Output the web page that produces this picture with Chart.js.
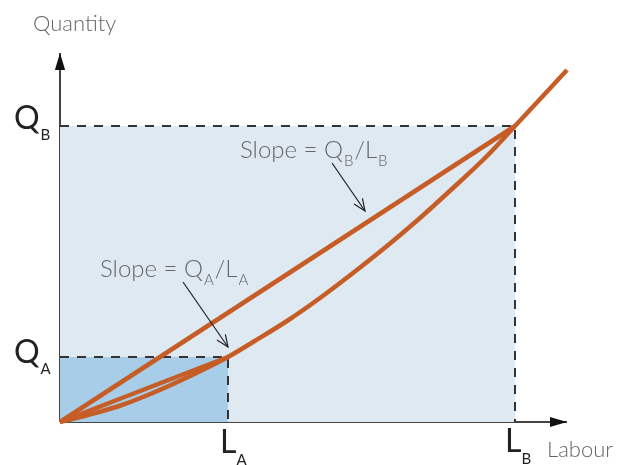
<!DOCTYPE html>
<html>
<head>
<meta charset="utf-8">
<script src="https://cdn.jsdelivr.net/npm/chart.js@4.4.0/dist/chart.umd.min.js"></script>
<style>
  body { margin: 0; background: #fff; }
  canvas { display: block; }
</style>
</head>
<body>
<canvas id="myChart" width="624" height="465"></canvas>
<script>
// labour / quantity points
var LA = 168, LB = 455;
var QA = 65, QB = 296;

// production curve
var curveX = [0, 28, 62, 95, 128, 168, 193, 227, 260, 293, 327, 360, 393, 427, 455, 507];
var curveY = [0, 7, 17, 30, 45, 65, 80, 101, 124, 149, 176, 204, 234, 266, 296, 352];

var xMax = 507, yMax = 369; // where the axis arrows end

var orange = "#c65d26";
var toPts = function(xs, ys){
  var out = [];
  for (var i = 0; i < xs.length; i++) out.push({x: xs[i], y: ys[i]});
  return out;
};

// subscripted label like Q_B
var subText = function(ctx, parts, x, y){
  parts.forEach(function(p){
    ctx.font = p.font;
    ctx.fillStyle = p.color;
    ctx.fillText(p.t, x, y + (p.dy || 0));
    x += ctx.measureText(p.t).width + (p.gap || 0);
  });
};

var arrow = function(ctx, x1, y1, x2, y2, head, fill){
  var a = Math.atan2(y2 - y1, x2 - x1);
  ctx.beginPath();
  ctx.moveTo(x1, y1);
  ctx.lineTo(x2, y2);
  ctx.stroke();
  ctx.beginPath();
  if (fill) {
    ctx.moveTo(x2, y2);
    ctx.lineTo(x2 - head * Math.cos(a) + head * 0.3 * Math.sin(a), y2 - head * Math.sin(a) - head * 0.3 * Math.cos(a));
    ctx.lineTo(x2 - head * Math.cos(a) - head * 0.3 * Math.sin(a), y2 - head * Math.sin(a) + head * 0.3 * Math.cos(a));
    ctx.closePath();
    ctx.fill();
  } else {
    ctx.moveTo(x2 - head * Math.cos(a - 0.4), y2 - head * Math.sin(a - 0.4));
    ctx.lineTo(x2, y2);
    ctx.lineTo(x2 - head * Math.cos(a + 0.4), y2 - head * Math.sin(a + 0.4));
    ctx.stroke();
  }
};

var decor = {
  id: "decor",
  beforeDatasetsDraw: function(chart){
    var ctx = chart.ctx, xs = chart.scales.x, ys = chart.scales.y;
    var x0 = xs.getPixelForValue(0), y0 = ys.getPixelForValue(0);
    ctx.save();
    ctx.strokeStyle = "#444";
    ctx.fillStyle = "#111";
    ctx.lineWidth = 2;
    arrow(ctx, x0, y0, xs.getPixelForValue(xMax), y0, 17, true);
    arrow(ctx, x0, y0, x0, ys.getPixelForValue(yMax), 17, true);
    ctx.restore();
  },
  afterDraw: function(chart){
    var ctx = chart.ctx, xs = chart.scales.x, ys = chart.scales.y;
    var px = function(v){ return xs.getPixelForValue(v); };
    var py = function(v){ return ys.getPixelForValue(v); };
    ctx.save();
    var big = "32px Lato", sub = "15px Lato", lab = "300 22px Lato", slope = "300 24px Lato";
    var dark = "#222", grey = "#666";
    ctx.textBaseline = "alphabetic";

    subText(ctx, [{t: "Q", font: big, color: dark, gap: 1}, {t: "B", font: sub, color: dark, dy: 11}], 14, py(QB) + 3);
    subText(ctx, [{t: "Q", font: big, color: dark, gap: 1}, {t: "A", font: sub, color: dark, dy: 11}], 14, py(QA) + 6);
    subText(ctx, [{t: "L", font: big, color: dark, gap: 0}, {t: "A", font: sub, color: dark, dy: 12}], px(LA) - 8, 453);
    subText(ctx, [{t: "L", font: big, color: dark, gap: 0}, {t: "B", font: sub, color: dark, dy: 12}], px(LB) - 10, 452);

    ctx.font = lab;
    ctx.fillStyle = grey;
    ctx.fillText("Quantity", 33, 31);
    ctx.fillText("Labour", 547, 457);

    var sm = "300 15px Lato";
    subText(ctx, [{t: "Slope = Q", font: slope, color: grey, gap: 1}, {t: "B", font: sm, color: grey, dy: 8, gap: 1},
                  {t: "/L", font: slope, color: grey, gap: 1}, {t: "B", font: sm, color: grey, dy: 8}], px(180), py(264));
    subText(ctx, [{t: "Slope = Q", font: slope, color: grey, gap: 1}, {t: "A", font: sm, color: grey, dy: 8, gap: 1},
                  {t: "/L", font: slope, color: grey, gap: 1}, {t: "A", font: sm, color: grey, dy: 8}], px(40), py(145));

    ctx.strokeStyle = "#222";
    ctx.lineWidth = 1.2;
    arrow(ctx, px(272), py(259), px(305), py(211), 13, false);
    arrow(ctx, px(123), py(140), px(168), py(75), 13, false);
    ctx.restore();
  }
};

var ctx = document.getElementById("myChart").getContext("2d");
var myNewChart = new Chart(ctx, {
  type: "scatter",
  data: {
    datasets: [
      { // big rectangle up to L_B, Q_B
        data: toPts([0, LB, LB], [QB, QB, 0]),
        showLine: true, fill: "origin",
        backgroundColor: "#dfe9f2",
        borderColor: "#333", borderWidth: 2, borderDash: [9, 8],
        pointRadius: 0, order: 6
      },
      { // small rectangle up to L_A, Q_A
        data: toPts([0, LA, LA], [QA, QA, 0]),
        showLine: true, fill: "origin",
        backgroundColor: "#a8cde9",
        borderColor: "#333", borderWidth: 2, borderDash: [9, 8],
        pointRadius: 0, order: 5
      },
      { // chord to B
        data: toPts([0, LB], [0, QB]),
        showLine: true, borderColor: orange, borderWidth: 4.5,
        pointRadius: 0, order: 3
      },
      { // chord to A
        data: toPts([0, LA], [0, QA]),
        showLine: true, borderColor: orange, borderWidth: 4.5,
        pointRadius: 0, order: 2
      },
      { // production function
        data: toPts(curveX, curveY),
        showLine: true, borderColor: orange, borderWidth: 4.5,
        cubicInterpolationMode: "monotone",
        pointRadius: 0, order: 1
      }
    ]
  },
  options: {
    responsive: false,
    animation: false,
    clip: false,
    layout: { padding: { left: 60, right: 40, top: 40, bottom: 43 } },
    plugins: { legend: { display: false }, tooltip: { enabled: false } },
    scales: {
      x: { type: "linear", min: 0, max: 524, display: false },
      y: { type: "linear", min: 0, max: 382, display: false }
    }
  },
  plugins: [decor]
});
</script>
</body>
</html>
